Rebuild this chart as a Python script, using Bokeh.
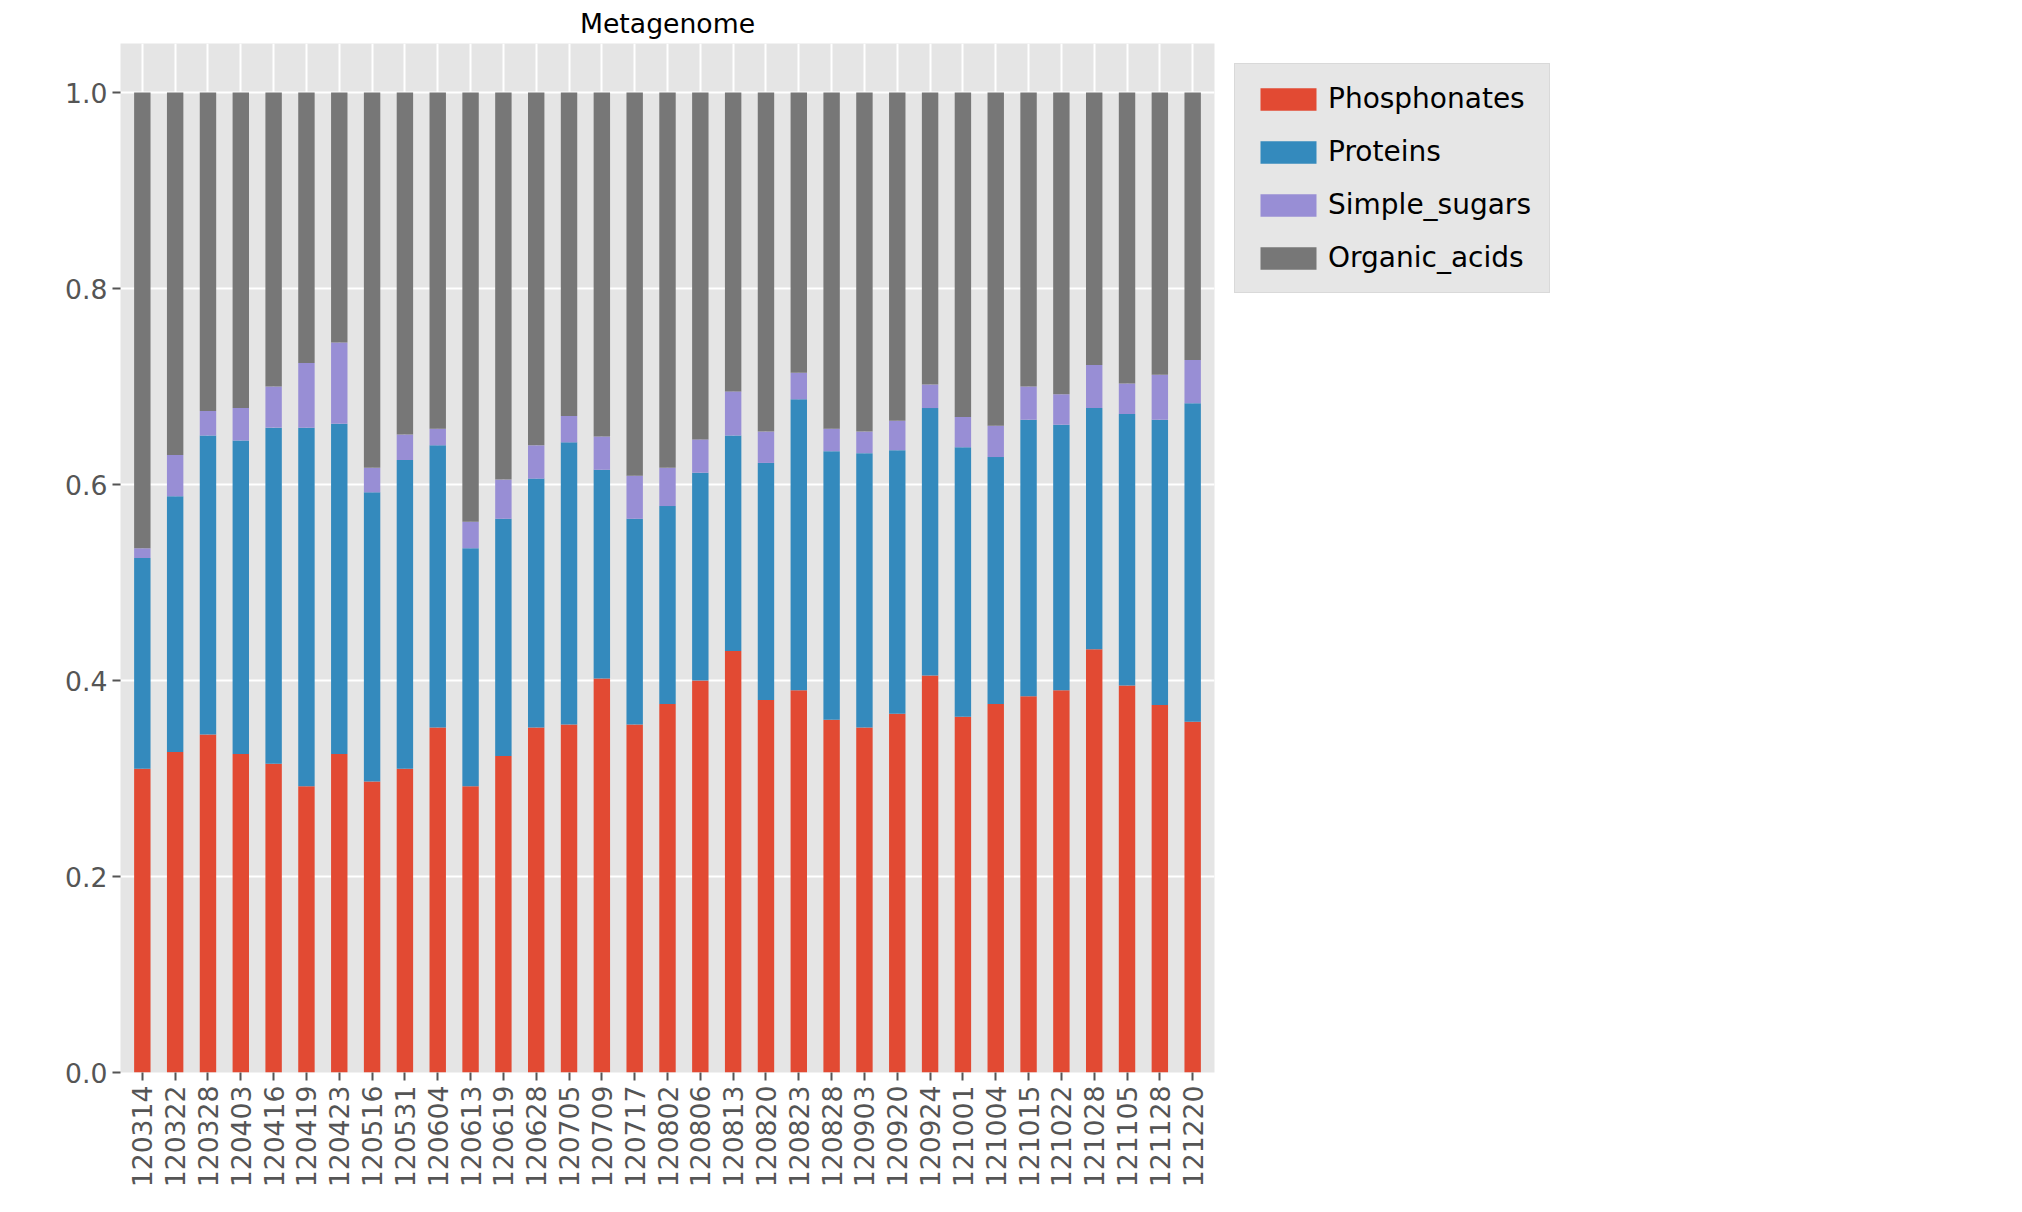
from bokeh.plotting import figure
from bokeh.models import ColumnDataSource, Legend, FactorRange, Range1d, FixedTicker, PrintfTickFormatter
from bokeh.embed import file_html
from bokeh.resources import INLINE

dates = ['120314', '120322', '120328', '120403', '120416', '120419', '120423', '120516',
         '120531', '120604', '120613', '120619', '120628', '120705', '120709', '120717',
         '120802', '120806', '120813', '120820', '120823', '120828', '120903', '120920',
         '120924', '121001', '121004', '121015', '121022', '121028', '121105', '121128',
         '121220']
phosphonates = [0.310, 0.327, 0.345, 0.325, 0.315, 0.292, 0.325, 0.297, 0.310, 0.352, 0.292,
                0.323, 0.352, 0.355, 0.402, 0.355, 0.376, 0.400, 0.430, 0.380, 0.390, 0.360,
                0.352, 0.366, 0.405, 0.363, 0.376, 0.384, 0.390, 0.432, 0.395, 0.375, 0.358]
proteins = [0.215, 0.261, 0.305, 0.320, 0.343, 0.366, 0.337, 0.295, 0.315, 0.288, 0.243,
            0.242, 0.254, 0.288, 0.213, 0.210, 0.202, 0.212, 0.220, 0.242, 0.297, 0.274,
            0.280, 0.269, 0.273, 0.275, 0.252, 0.282, 0.271, 0.246, 0.277, 0.291, 0.325]
simple_sugars = [0.010, 0.042, 0.025, 0.033, 0.042, 0.066, 0.083, 0.025, 0.026, 0.017, 0.027,
                 0.040, 0.034, 0.027, 0.034, 0.044, 0.039, 0.034, 0.045, 0.032, 0.027, 0.023,
                 0.022, 0.030, 0.024, 0.031, 0.032, 0.034, 0.031, 0.044, 0.031, 0.046, 0.044]
organic_acids = [0.465, 0.370, 0.325, 0.322, 0.300, 0.276, 0.255, 0.383, 0.349, 0.343, 0.438,
                 0.395, 0.360, 0.330, 0.351, 0.391, 0.383, 0.354, 0.305, 0.346, 0.286, 0.343,
                 0.346, 0.335, 0.298, 0.331, 0.340, 0.300, 0.308, 0.278, 0.297, 0.288, 0.273]

series = ['Phosphonates', 'Proteins', 'Simple_sugars', 'Organic_acids']
colors = ['#E24A33', '#348ABD', '#988ED5', '#777777']

source = ColumnDataSource(dict(date=dates, Phosphonates=phosphonates, Proteins=proteins,
                               Simple_sugars=simple_sugars, Organic_acids=organic_acids))

p = figure(x_range=FactorRange(factors=dates, range_padding=0.0), y_range=Range1d(0, 1.05),
           width=2000, height=1190, title='Metagenome', output_backend="svg",
           toolbar_location=None, min_border_left=120, min_border_top=30)
renderers = p.vbar_stack(series, x='date', width=0.5, color=colors, source=source, line_width=0)

p.x_range.range_padding = 0.01
p.background_fill_color = '#E5E5E5'
p.border_fill_color = 'white'
p.outline_line_color = None
p.title.align = 'center'
p.title.text_font_size = '20pt'
p.title.text_font_style = 'normal'
p.title.text_font = 'DejaVu Sans'
p.title.text_color = 'black'
p.xgrid.grid_line_color = 'white'
p.ygrid.grid_line_color = 'white'
p.xgrid.grid_line_width = 2
p.ygrid.grid_line_width = 2
p.yaxis.ticker = FixedTicker(ticks=[0, 0.2, 0.4, 0.6, 0.8, 1.0])
p.yaxis.formatter = PrintfTickFormatter(format="%.1f")
for ax in (p.xaxis, p.yaxis):
    ax.axis_line_color = None
    ax.major_tick_line_color = '#555555'
    ax.major_tick_line_width = 2
    ax.major_tick_out = 8
    ax.major_tick_in = 0
    ax.minor_tick_line_color = None
    ax.major_label_text_font_size = '20pt'
    ax.major_label_text_color = '#555555'
    ax.major_label_text_font = 'DejaVu Sans'
p.xaxis.major_label_orientation = 1.5708

legend = Legend(items=[(s, [r]) for s, r in zip(series, renderers)], location='top_left')
legend.background_fill_color = '#E5E5E5'
legend.border_line_color = '#CCCCCC'
legend.label_text_font_size = '21pt'
legend.label_text_font = 'DejaVu Sans'
legend.label_text_color = 'black'
legend.glyph_width = 70
legend.glyph_height = 28
legend.spacing = 20
legend.padding = 18
legend.margin = 20
p.add_layout(legend, 'right')

open("out.html", "w").write(file_html(p, INLINE))
